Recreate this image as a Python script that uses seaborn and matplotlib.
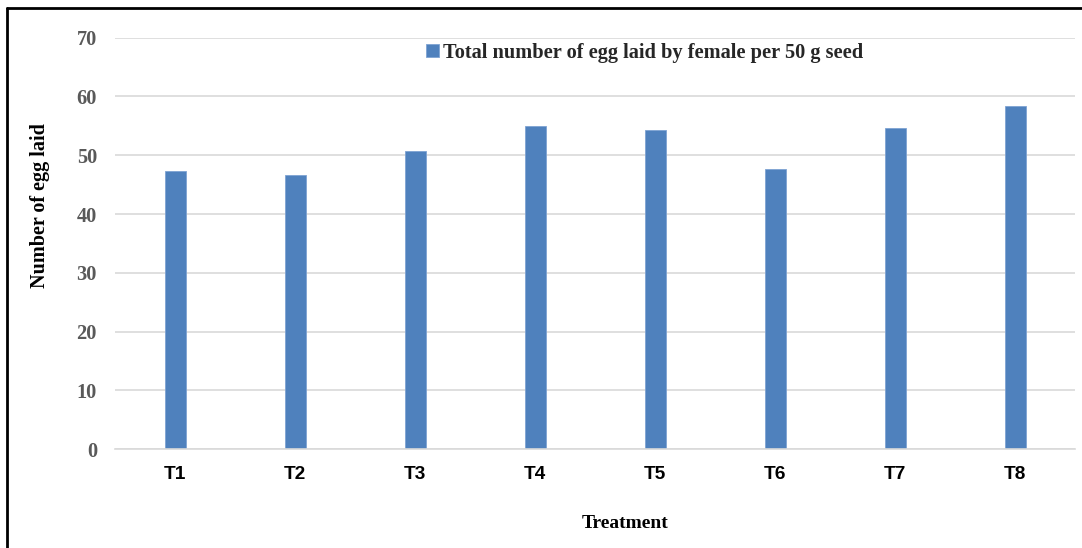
import matplotlib
matplotlib.use("Agg")
import matplotlib.pyplot as plt
from matplotlib.lines import Line2D
import seaborn as sns
import pandas as pd

treatments = ["T1", "T2", "T3", "T4", "T5", "T6", "T7", "T8"]
eggs_laid = [47.4, 46.6, 50.7, 55.0, 54.3, 47.7, 54.6, 58.4]
series_label = "Total number of egg laid by female per 50 g seed"
y_ticks = [0, 10, 20, 30, 40, 50, 60, 70]

df = pd.DataFrame({"Treatment": treatments, "Eggs": eggs_laid})

sns.set_theme(style="white")
W, H = 1082, 548
fig = plt.figure(figsize=(W / 100, H / 100), dpi=100)
fig.patch.set_facecolor("white")

ax = fig.add_axes([115 / W, 1 - 449.3 / H, 960 / W, (449.3 - 37.7) / H])

bar_color = "#4f81bd"
sns.barplot(data=df, x="Treatment", y="Eggs", color=bar_color, width=0.175,
            edgecolor="#7ea3d3", linewidth=0.6, label=series_label, ax=ax,
            saturation=1)

ax.set_ylim(0, 70)
ax.set_xlim(-0.5, len(treatments) - 0.5)
ax.set_yticks(y_ticks)
ax.set_axisbelow(True)
ax.yaxis.grid(True, color="#d9d9d9", linewidth=1.2)
ax.xaxis.grid(False)
for side in ["top", "right", "left"]:
    ax.spines[side].set_visible(False)
ax.spines["bottom"].set_color("#d9d9d9")
ax.spines["bottom"].set_linewidth(1.2)
ax.tick_params(axis="both", length=0)
ax.tick_params(axis="y", pad=13)
ax.tick_params(axis="x", pad=12)

for lbl in ax.get_yticklabels():
    lbl.set_fontfamily("Liberation Serif")
    lbl.set_fontweight("bold")
    lbl.set_fontsize(14.7)
    lbl.set_color("#595959")
for lbl in ax.get_xticklabels():
    lbl.set_fontfamily("Liberation Sans")
    lbl.set_fontweight("bold")
    lbl.set_fontsize(13.7)
    lbl.set_color("black")

ax.set_xlabel("")
ax.set_ylabel("")
fig.text(625 / W, 1 - 523 / H, "Treatment", ha="center", va="center",
         fontfamily="Liberation Serif", fontweight="bold", fontsize=14, color="black")
fig.text(40 / W, 1 - 206 / H, "Number of egg laid", ha="center", va="center",
         rotation=90, fontfamily="Liberation Serif", fontweight="bold",
         fontsize=14.5, color="black")

leg = ax.legend(loc="center left", bbox_to_anchor=(426 / W, 1 - 53 / H),
                bbox_transform=fig.transFigure, frameon=False,
                handlelength=0.62, handleheight=0.62, handletextpad=0.22,
                borderpad=0, borderaxespad=0,
                prop={"family": "Liberation Serif", "weight": "bold", "size": 14.65})

# frame around the chart area
fig.add_artist(Line2D([7 / W, 1.0], [1 - 8 / H, 1 - 8 / H],
                      transform=fig.transFigure, color="black", linewidth=2))
fig.add_artist(Line2D([7 / W, 7 / W], [0, 1 - 8 / H],
                      transform=fig.transFigure, color="black", linewidth=2))

fig.savefig("out.png", dpi=100, facecolor="white")
